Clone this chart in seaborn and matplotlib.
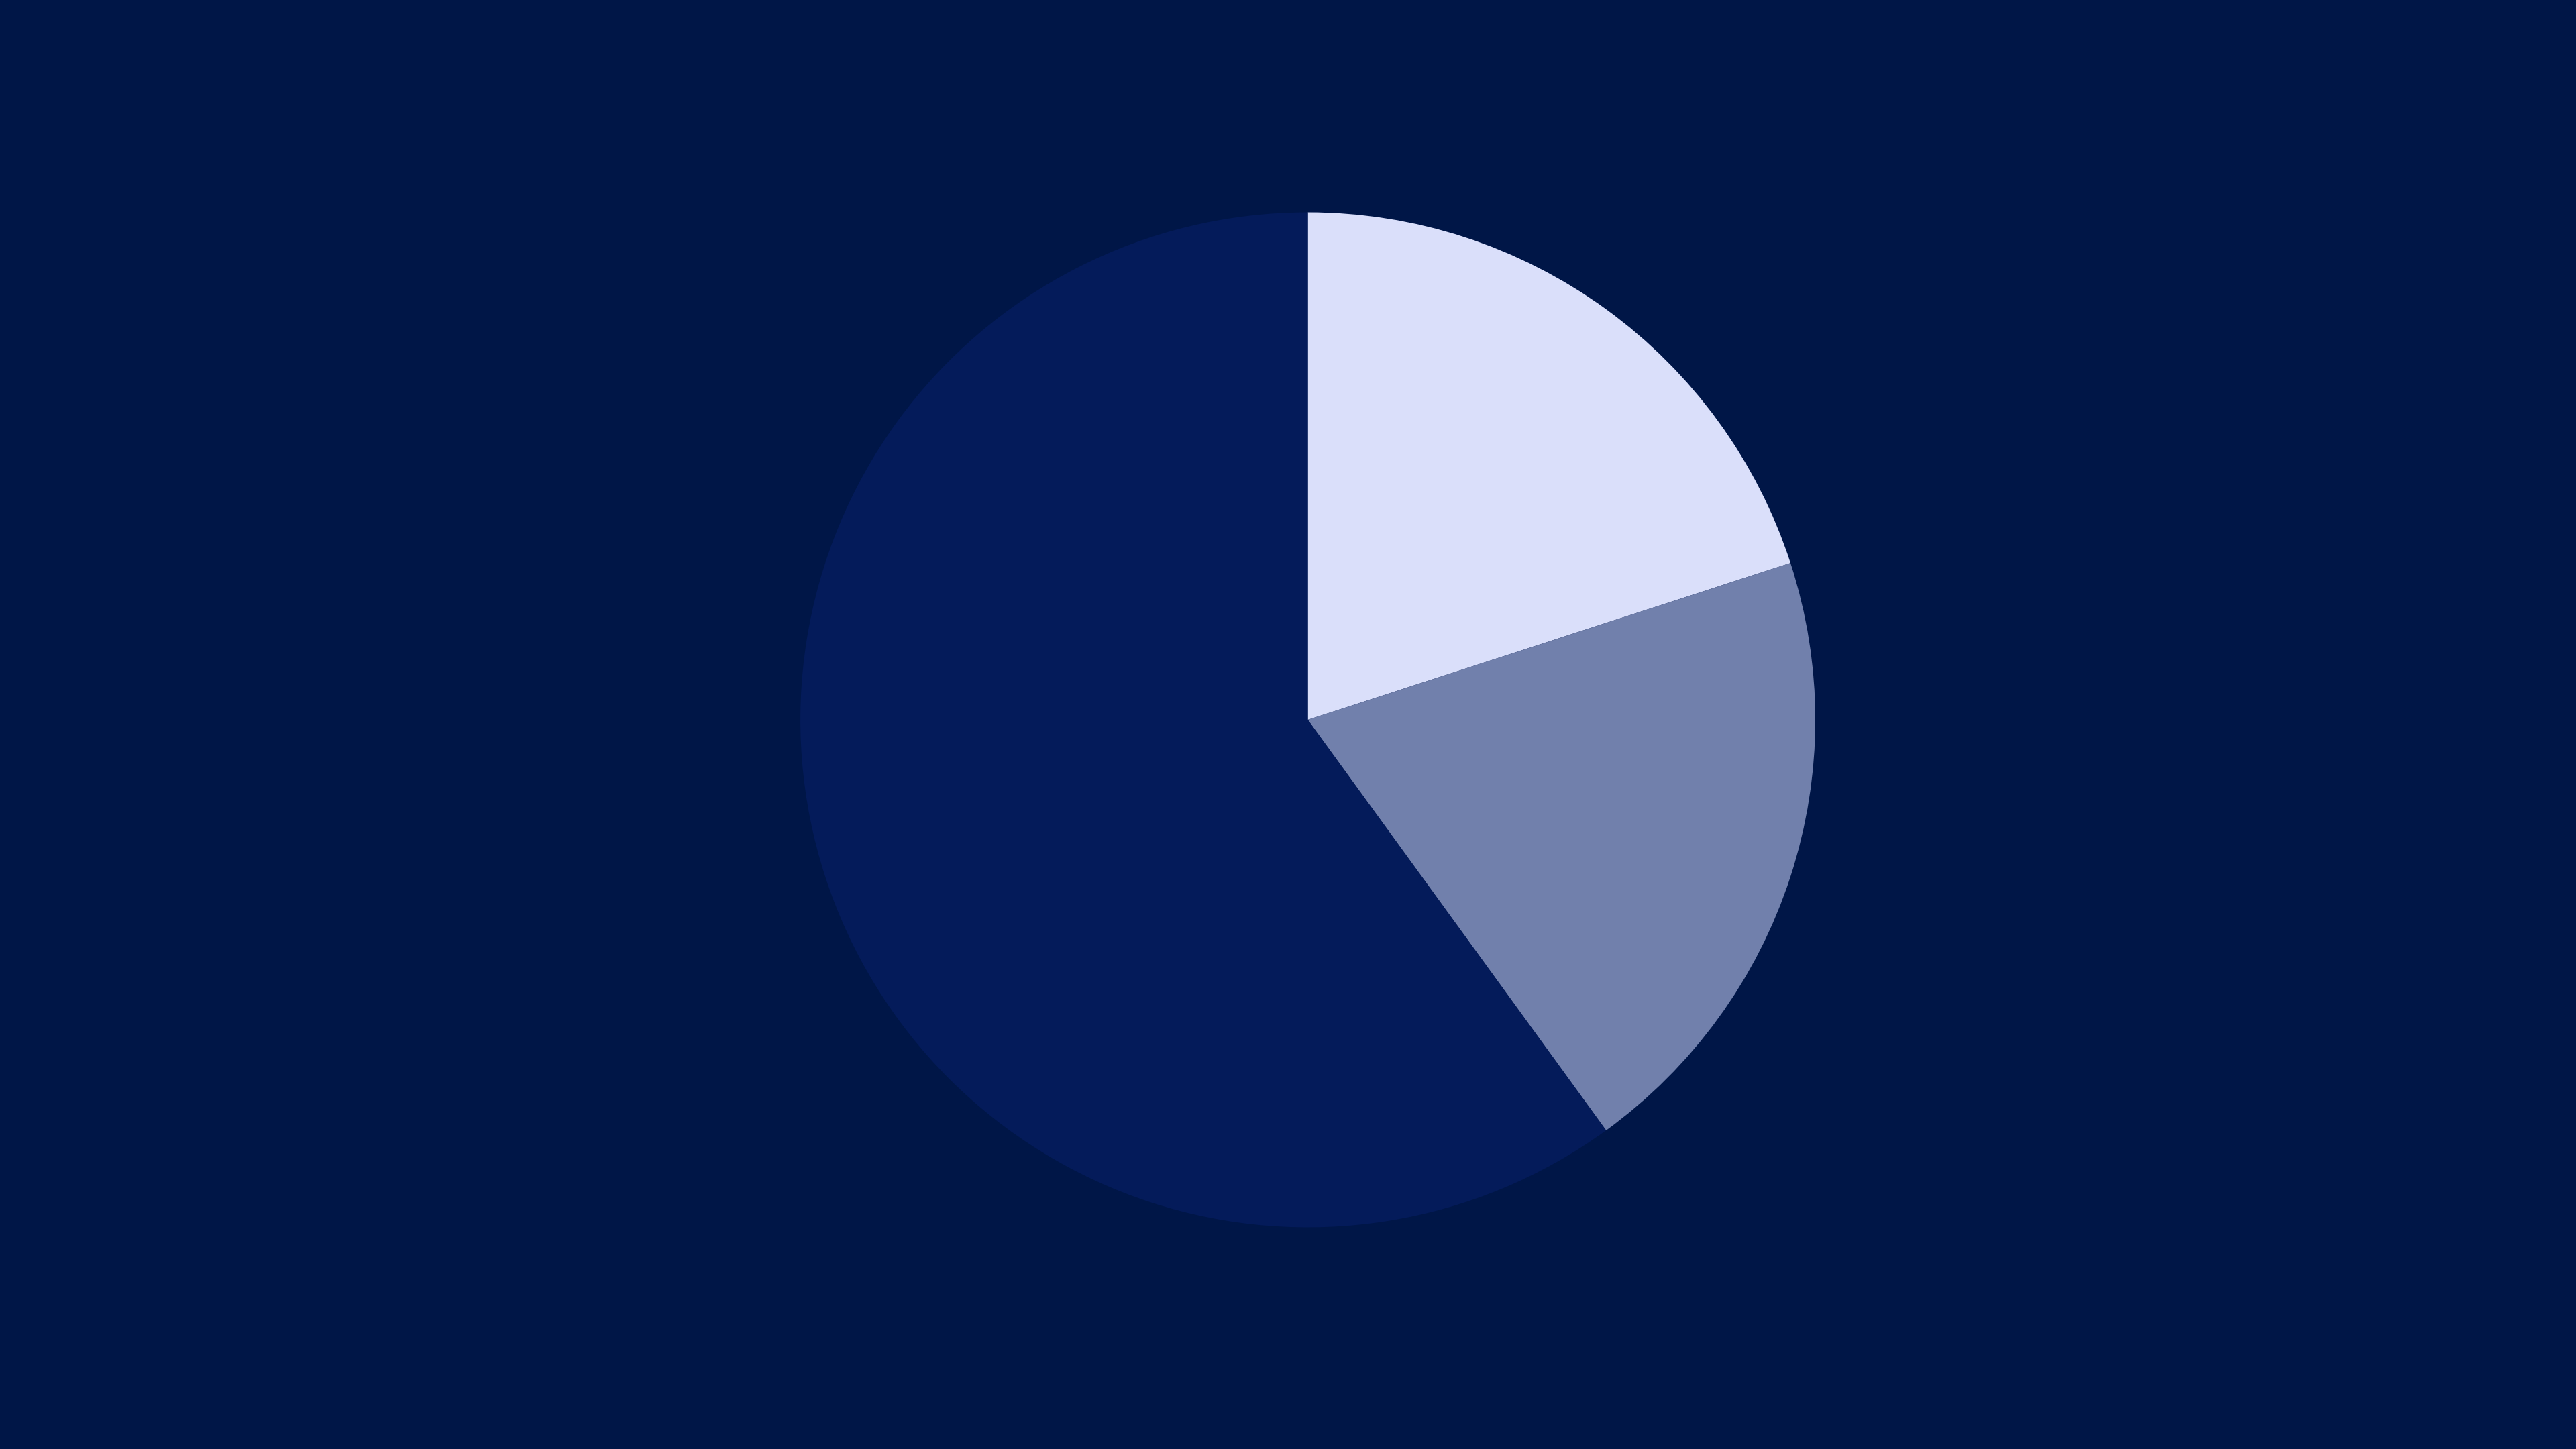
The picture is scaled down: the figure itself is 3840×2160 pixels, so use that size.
import matplotlib
matplotlib.use("Agg")
import matplotlib.pyplot as plt
import seaborn as sns

# slice data, read clockwise from 12 o'clock
categories = ["A", "B", "C"]
shares = [20, 20, 60]
slice_colors = ["#dadffa", "#7180ac", "#041b5a"]

bg = "#001647"

sns.set_theme(style="dark")
plt.rcParams["font.family"] = ["DejaVu Sans"]

fig = plt.figure(figsize=(16, 9), dpi=240, facecolor=bg)
ax = fig.add_axes([0.3107, 0.153, 0.394, 0.7005])
ax.set_facecolor(bg)

wedges, _ = ax.pie(
    shares,
    colors=slice_colors,
    startangle=90,
    counterclock=False,
    radius=1.0,
    wedgeprops={"linewidth": 0, "antialiased": True},
)
ax.set_xlim(-1, 1)
ax.set_ylim(-1, 1)
ax.set_aspect("equal")
ax.axis("off")

fig.savefig("out.png", dpi=240, facecolor=bg)
